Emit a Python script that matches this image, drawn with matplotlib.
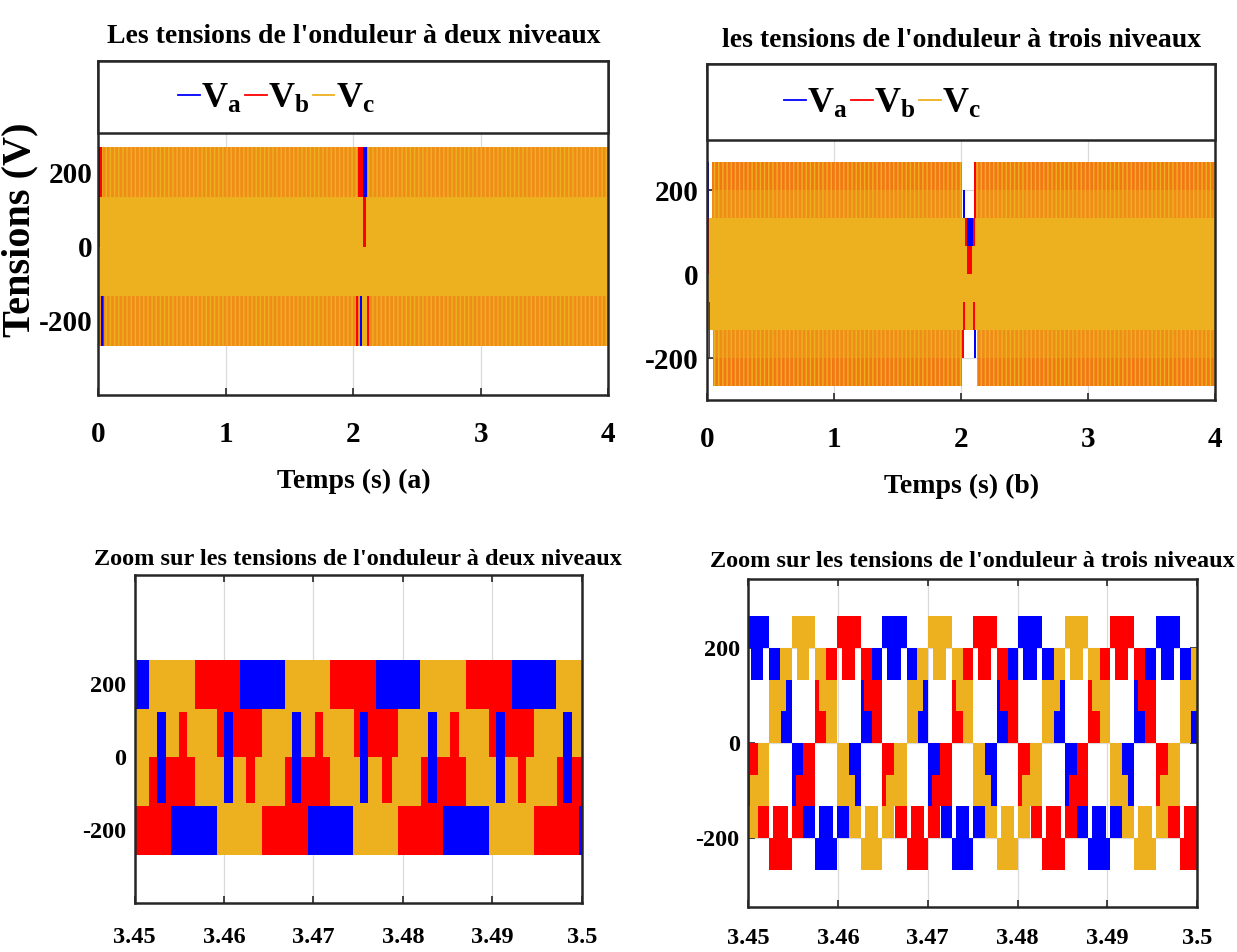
import matplotlib.pyplot as plt
from matplotlib.lines import Line2D
from matplotlib.patches import Rectangle
from matplotlib.colors import to_rgba

plt.rcParams['font.family'] = ['Liberation Serif', 'DejaVu Serif']
plt.rcParams['font.weight'] = 'bold'
plt.rcParams['axes.labelweight'] = 'bold'
plt.rcParams['axes.titleweight'] = 'bold'
plt.rcParams['mathtext.fontset'] = 'custom'
plt.rcParams['mathtext.rm'] = 'Liberation Serif:bold'
plt.rcParams['mathtext.it'] = 'Liberation Serif:bold'
plt.rcParams['mathtext.bf'] = 'Liberation Serif:bold'
plt.rcParams['axes.unicode_minus'] = False
plt.rcParams['hatch.linewidth'] = 1.0

c_a, c_b, c_c = '#0000FF', '#FF0000', '#EDB120'
couleurs = {'a': c_a, 'b': c_b, 'c': c_c}
noms = [r'$V_a$', r'$V_b$', r'$V_c$']

# ---------------- (a) onduleur 2 niveaux, 0 - 4 s
# niveaux : +-267 V (2E/3), +-133 V (E/3)
run_2n = [(0.0, 4.0)]
# traces visibles hors du motif general (t0, t1, vmin, vmax)
va_2n_marks = [(0.0, 0.012, 133, 267), (0.022, 0.036, -267, -133),
               (2.053, 2.066, -267, -133), (2.078, 2.105, 133, 267)]
vb_2n_marks = [(0.012, 0.028, 133, 267), (0.0, 0.012, 0, 133), (0.036, 0.045, -267, -133),
               (2.039, 2.078, 133, 267), (2.074, 2.100, 0, 133),
               (2.021, 2.039, -267, -133), (2.110, 2.126, -267, -133)]
vc_2n_marks = [(2.066, 2.110, -267, -133)]

# ---------------- (b) onduleur 3 niveaux, 0 - 4 s
run_3n_haut = [(0.034, 2.008), (2.113, 4.0)]
run_3n_bas = [(0.042, 2.008), (2.121, 4.0)]
run_3n_int = [(0.0, 4.0)]
va_3n_marks = [(0.0, 0.013, 133, 267), (2.016, 2.026, 133, 200),
               (2.042, 2.095, 67, 133), (2.103, 2.113, -200, -133)]
vb_3n_marks = [(0.0, 0.015, 0, 133), (0.012, 0.025, -200, -67),
               (2.026, 2.042, 67, 133), (2.095, 2.108, 67, 133), (2.047, 2.082, 0, 67),
               (2.016, 2.032, -133, -67), (2.090, 2.111, -133, -67),
               (2.008, 2.024, -200, -133), (2.103, 2.113, 133, 267)]
vc_3n_marks = []

# ---------------- zoom 2 niveaux, 3.45 - 3.5 s
zl_haut_t = [3.4500, 3.4516, 3.4568, 3.4618, 3.4668, 3.4719, 3.4770, 3.4819, 3.4871, 3.4922, 3.4971, 3.5000]
zl_haut_ph = ['a', 'c', 'b', 'a', 'c', 'b', 'a', 'c', 'b', 'a', 'c']
zl_bas_t = [3.4500, 3.4541, 3.4592, 3.4643, 3.4694, 3.4744, 3.4795, 3.4845, 3.4896, 3.4947, 3.4997, 3.5000]
zl_bas_ph = ['b', 'a', 'c', 'b', 'a', 'c', 'b', 'a', 'c', 'b', 'a']
vc_zl_mil = [(3.45, 3.5)]                                                  # [-133, 133]
vb_zl_mil_h = [(3.4592, 3.4642), (3.4745, 3.4795), (3.4896, 3.4947)]       # [0, 133]
vb_zl_mil_b = [(3.4516, 3.4567), (3.4668, 3.4719), (3.4820, 3.4871), (3.4972, 3.5)]  # [-133, 0]
vb_zl_pic_h = [(3.4550, 3.4559), (3.4702, 3.4711), (3.4853, 3.4863)]       # [0, 125]
vb_zl_pic_b = [(3.4625, 3.4635), (3.4777, 3.4788), (3.4929, 3.4938)]       # [-125, 0]
va_zl_pic = [(3.4525, 3.4535), (3.4600, 3.4610), (3.4676, 3.4686), (3.4752, 3.4761),
             (3.4828, 3.4838), (3.4904, 3.4914), (3.4979, 3.4989)]        # [-125, 125]

# ---------------- zoom 3 niveaux, 3.45 - 3.5 s
# bornes des sextants
zr_t = [3.44981, 3.45235, 3.45488, 3.45742, 3.45992, 3.46253, 3.46495, 3.46764, 3.47006,
        3.47271, 3.47505, 3.47766, 3.48008, 3.48276, 3.48530, 3.48787, 3.49033, 3.49294,
        3.49544, 3.49805, 3.50059]
# etat de chaque phase par sextant : T haut, FU/FL descente, B bas, RL/RU montee
va_zr = ['T', 'FU', 'FL', 'B', 'RL', 'RU', 'T', 'FU', 'FL', 'B', 'RL', 'RU', 'T', 'FU', 'FL', 'B', 'RL', 'RU', 'T', 'FU']
vb_zr = ['FL', 'B', 'RL', 'RU', 'T', 'FU', 'FL', 'B', 'RL', 'RU', 'T', 'FU', 'FL', 'B', 'RL', 'RU', 'T', 'FU', 'FL', 'B']
vc_zr = ['RL', 'RU', 'T', 'FU', 'FL', 'B', 'RL', 'RU', 'T', 'FU', 'FL', 'B', 'RL', 'RU', 'T', 'FU', 'FL', 'B', 'RL', 'RU']
d_jambe = 0.00127
d_av = 0.00043
d_arr = 0.00063
d_haut = (0.00056, 0.00063)
d_bas = 0.00045


def boites_3n(etat, s, e):
    m = s + d_jambe
    if etat == 'T':
        return [(s, e, 200, 267), (s + d_haut[0], e - d_haut[1], 133, 200)]
    if etat == 'FU':
        return [(s, m, 133, 200), (s + d_av, e, 67, 133), (m, e, 0, 67)]
    if etat == 'FL':
        return [(s, m, -67, 0), (s, e - d_arr, -133, -67), (e - d_jambe, e, -200, -133)]
    if etat == 'B':
        return [(s, e, -267, -200), (s + d_bas, e - d_bas, -200, -133)]
    if etat == 'RL':
        return [(s, m, -200, -133), (s + d_av, e, -133, -67), (m, e, -67, 0)]
    return [(s, m, 0, 67), (s, e - d_arr, 67, 133), (e - d_jambe, e, 133, 200)]


def bande(ax, t0, t1, lo, hi, col, z=1.0, **kw):
    ax.bar(t0, hi - lo, width=t1 - t0, bottom=lo, align='edge', color=col,
           linewidth=0, zorder=z, **kw)


def cadre(ax, ts, lpad):
    for sp in ax.spines.values():
        sp.set_linewidth(1.8)
        sp.set_color('#262626')
    ax.tick_params(direction='in', length=5, width=1.2, color='#262626',
                   top=True, right=True, labelsize=ts)
    ax.tick_params(axis='y', pad=lpad)
    ax.grid(True, color='#DADADA', linewidth=0.9)
    ax.set_axisbelow(True)


def legende(ax, y_box, x0, y0):
    ax.add_patch(Rectangle((0, y_box), 1, 1 - y_box, transform=ax.transAxes,
                           facecolor='white', edgecolor='#262626', lw=1.8,
                           zorder=3, clip_on=False))
    h = [Line2D([], [], color=couleurs[p], lw=1.3) for p in 'abc']
    ax.legend(h, noms, loc='center left', bbox_to_anchor=(x0, y0), frameon=False,
              ncol=3, fontsize=26, handlelength=0.6, handletextpad=0.04,
              columnspacing=0.1, borderpad=0, borderaxespad=0)


fig = plt.figure(figsize=(12.37, 9.52), dpi=100)
ax1 = fig.add_axes([0.0795, 0.5851, 0.4123, 0.3508])
ax2 = fig.add_axes([0.5718, 0.5798, 0.4106, 0.3526])
ax3 = fig.add_axes([0.1088, 0.0512, 0.3615, 0.3449])
ax4 = fig.add_axes([0.6047, 0.0476, 0.3632, 0.3437])

# ---- (a)
for t0, t1 in run_2n:
    bande(ax1, t0, t1, -267, 267, c_a)
    bande(ax1, t0, t1, -267, 267, c_b)
    bande(ax1, t0, t1, -133, 133, c_c)
    for lo, hi in [(133, 267), (-267, -133)]:
        bande(ax1, t0, t1, lo, hi, to_rgba(c_c, 0.8), z=1.1, edgecolor=c_c, hatch='||||')
for p, lst in zip('abc', [va_2n_marks, vb_2n_marks, vc_2n_marks]):
    for t0, t1, lo, hi in lst:
        bande(ax1, t0, t1, lo, hi, couleurs[p], z=2)

# ---- (b)
for runs, sgn in [(run_3n_haut, 1), (run_3n_bas, -1)]:
    for t0, t1 in runs:
        bande(ax2, t0, t1, min(133 * sgn, 267 * sgn), max(133 * sgn, 267 * sgn), c_a)
        bande(ax2, t0, t1, min(133 * sgn, 267 * sgn), max(133 * sgn, 267 * sgn), c_b)
        bande(ax2, t0, t1, min(200 * sgn, 267 * sgn), max(200 * sgn, 267 * sgn),
              to_rgba(c_c, 0.68), z=1.1, edgecolor=c_c, hatch='||||')
        bande(ax2, t0, t1, min(133 * sgn, 200 * sgn), max(133 * sgn, 200 * sgn),
              to_rgba(c_c, 0.8), z=1.1, edgecolor=c_c, hatch='||||')
for t0, t1 in run_3n_int:
    bande(ax2, t0, t1, -133, 133, c_c)
for p, lst in zip('abc', [va_3n_marks, vb_3n_marks, vc_3n_marks]):
    for t0, t1, lo, hi in lst:
        bande(ax2, t0, t1, lo, hi, couleurs[p], z=2)

# ---- zoom 2 niveaux
for t0, t1 in vc_zl_mil:
    bande(ax3, t0, t1, -133, 133, c_c)
for i, p in enumerate(zl_haut_ph):
    bande(ax3, zl_haut_t[i], zl_haut_t[i + 1], 133, 267, couleurs[p])
for i, p in enumerate(zl_bas_ph):
    bande(ax3, zl_bas_t[i], zl_bas_t[i + 1], -267, -133, couleurs[p])
for t0, t1 in vb_zl_mil_h:
    bande(ax3, t0, t1, 0, 133, c_b, z=2)
for t0, t1 in vb_zl_mil_b:
    bande(ax3, t0, t1, -133, 0, c_b, z=2)
for t0, t1 in vb_zl_pic_h:
    bande(ax3, t0, t1, 0, 125, c_b, z=2)
for t0, t1 in vb_zl_pic_b:
    bande(ax3, t0, t1, -125, 0, c_b, z=2)
for t0, t1 in va_zl_pic:
    bande(ax3, t0, t1, -125, 125, c_a, z=3)

# ---- zoom 3 niveaux (ordre de trace : Va, Vb, Vc)
for p, etats in zip('abc', [va_zr, vb_zr, vc_zr]):
    for k, et in enumerate(etats):
        for t0, t1, lo, hi in boites_3n(et, zr_t[k], zr_t[k + 1]):
            bande(ax4, t0, t1, lo, hi, couleurs[p])

# ---- axes
for ax in [ax1, ax2]:
    ax.set_xlim(0, 4)
    ax.set_xticks([0, 1, 2, 3, 4])
    ax.set_yticks([-200, 0, 200])
cadre(ax1, 21, 4)
cadre(ax2, 21, 6)
for ax in [ax1, ax2]:
    ax.tick_params(axis='x', pad=19)
ax1.set_ylim(-400, 500)
ax2.set_ylim(-300, 500)

for ax in [ax3, ax4]:
    ax.set_xlim(3.45, 3.5)
    ax.set_xticks([3.45, 3.46, 3.47, 3.48, 3.49, 3.5])
    ax.set_xticklabels(['3.45', '3.46', '3.47', '3.48', '3.49', '3.5'])
    ax.set_yticks([-200, 0, 200])
    cadre(ax, 17.5, 6)
ax3.tick_params(axis='x', pad=17)
ax4.tick_params(axis='x', pad=15.5)
ax3.set_ylim(-400, 500)
ax4.set_ylim(-345, 345)

ax1.set_title("Les tensions de l'onduleur à deux niveaux", fontsize=20, pad=13)
ax2.set_title("les tensions de l'onduleur à trois niveaux", fontsize=20, pad=12.5)
ax3.set_title("Zoom sur les tensions de l'onduleur à deux niveaux", fontsize=17.5, pad=7)
ax4.set_title("Zoom sur les tensions de l'onduleur à trois niveaux", fontsize=17.5, pad=9)

ax1.set_xlabel('Temps (s) (a)', fontsize=20, labelpad=15)
ax2.set_xlabel('Temps (s) (b)', fontsize=20, labelpad=15)
ax1.set_ylabel('Tensions (V)', fontsize=29)
ax1.yaxis.set_label_coords(-0.118, 0.494)

legende(ax1, 0.7853, 0.156, 0.885)
legende(ax2, 0.776, 0.151, 0.882)

fig.savefig('out.png', dpi=100)
